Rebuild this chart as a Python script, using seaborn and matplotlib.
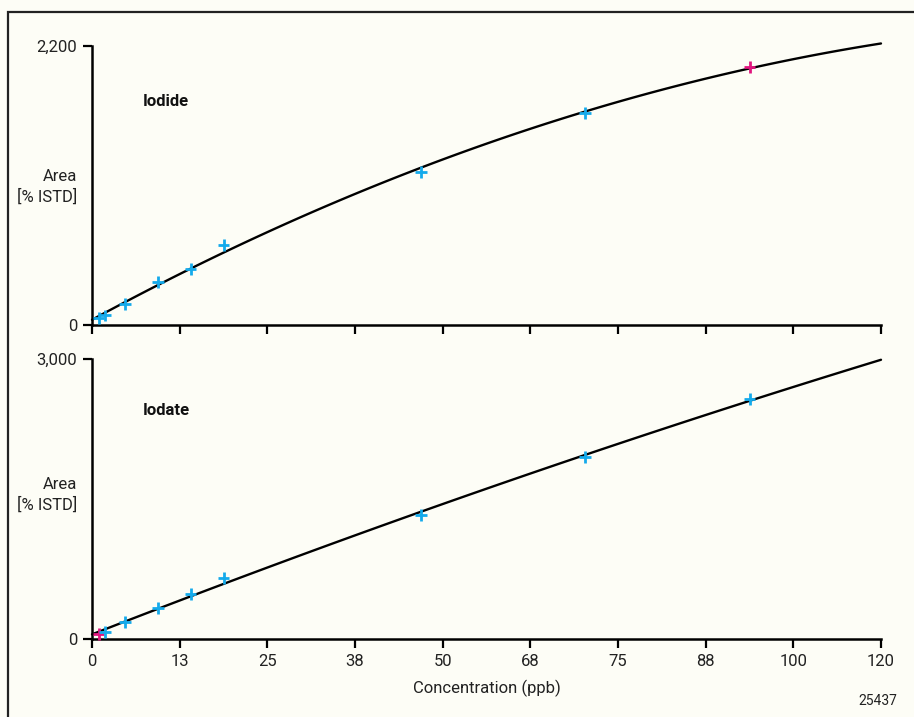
import numpy as np
import pandas as pd
import matplotlib
matplotlib.use("Agg")
import matplotlib.pyplot as plt
from matplotlib.patches import Rectangle
import seaborn as sns

# ---- data ----
conc = [1, 2, 5, 10, 15, 20, 50, 75, 100]
iodide_area = [55, 75, 166, 339, 442, 631, 1207, 1672, 2035]
iodate_area = [54, 75, 182, 332, 482, 653, 1328, 1949, 2570]
iodide_status = ["std"] * 8 + ["check"]
iodate_status = ["check"] + ["std"] * 8
xtick_pos = [i * 120 / 9 for i in range(10)]
xtick_labels = ["0", "13", "25", "38", "50", "68", "75", "88", "100", "120"]
panel_names = ["Iodide", "Iodate"]
y_max = [2200, 3000]
y_max_labels = ["2,200", "3,000"]

BG = "#FDFDF6"
BLUE = "#14AAEB"
MAGENTA = "#E0157E"

sns.set_theme(style="white")
plt.rcParams["font.family"] = ["Liberation Sans Narrow", "Roboto", "DejaVu Sans"]
plt.rcParams["axes.facecolor"] = BG
plt.rcParams["figure.facecolor"] = BG

fig = plt.figure(figsize=(9.14, 7.17), dpi=100)
W, H = 914, 717
def ax_rect(x0, y_top, x1, y_bot):
    return [x0 / W, 1 - y_bot / H, (x1 - x0) / W, (y_bot - y_top) / H]

ax_top = fig.add_axes(ax_rect(92, 46, 881, 325))
ax_bot = fig.add_axes(ax_rect(92, 359, 881, 639))

frames = [
    pd.DataFrame({"conc": conc, "area": iodide_area, "status": iodide_status}),
    pd.DataFrame({"conc": conc, "area": iodate_area, "status": iodate_status}),
]

for i, (ax, df) in enumerate(zip([ax_top, ax_bot], frames)):
    ax.set_facecolor(BG)
    ax.set_xlim(0, 120)
    ax.set_ylim(0, y_max[i])
    sns.regplot(data=df, x="conc", y="area", order=2, ci=None, scatter=False,
                truncate=False, ax=ax,
                line_kws=dict(color="black", lw=1.7, zorder=2, clip_on=False))
    sns.scatterplot(data=df, x="conc", y="area", hue="status",
                    palette={"std": BLUE, "check": MAGENTA}, marker="+",
                    s=70, linewidth=2.0, legend=False, ax=ax, zorder=3,
                    clip_on=False)
    ax.set_xlim(0, 120)
    ax.set_ylim(0, y_max[i])
    ax.set_xticks(xtick_pos)
    ax.set_yticks([0, y_max[i]])
    ax.set_yticklabels(["0", y_max_labels[i]])
    if i == 0:
        ax.set_xticklabels([])
    else:
        ax.set_xticklabels(xtick_labels)
    ax.set_xlabel("")
    ax.set_ylabel("")
    for s in ["top", "right"]:
        ax.spines[s].set_visible(False)
    for s in ["left", "bottom"]:
        ax.spines[s].set_color("black")
        ax.spines[s].set_linewidth(1.8)
    ax.tick_params(axis="both", which="both", direction="out", length=6.5,
                   width=1.6, color="black", labelsize=12, labelcolor="#222222",
                   pad=4, bottom=True, left=True)
    ax.grid(False)

ax_bot.set_xlabel("Concentration (ppb)", fontsize=12, color="#222222", labelpad=8)

# panel titles and y labels
fig.text(143 / W, 1 - 102 / H, "Iodide", fontsize=12, fontweight="bold",
         ha="left", va="center", color="#111111")
fig.text(143 / W, 1 - 410 / H, "Iodate", fontsize=12, fontweight="bold",
         ha="left", va="center", color="#111111")
for yc in [187, 495]:
    fig.text(77 / W, 1 - yc / H, "Area\n[% ISTD]", fontsize=12, ha="right",
             va="center", multialignment="right", color="#222222",
             linespacing=1.3)
fig.text(897 / W, 1 - 701 / H, "25437", fontsize=10, ha="right", va="center",
         color="#222222")

# outer frame
fig.patches.append(Rectangle((8 / W, -0.05), 1.1, 1 - 12 / H + 0.05,
                             transform=fig.transFigure, fill=False,
                             edgecolor="#222222", linewidth=1.6))

fig.savefig("out.png", dpi=100, facecolor=BG)
